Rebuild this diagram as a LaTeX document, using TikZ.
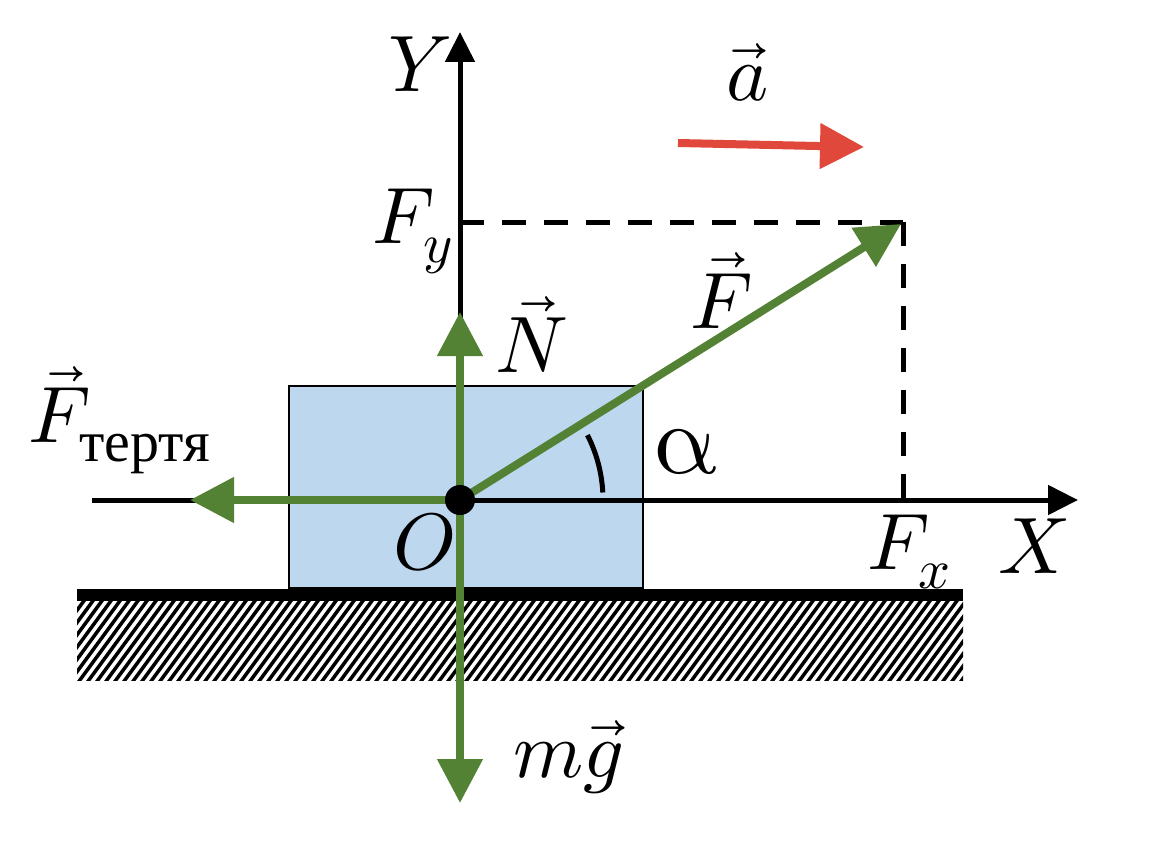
\documentclass[tikz,border=0pt]{standalone}
\usepackage{amsmath}
\usepackage{unicode-math}
\setmainfont{Liberation Serif}
\setmathfont{Latin Modern Math}
\usetikzlibrary{arrows.meta}
\definecolor{grn}{HTML}{548235}
\definecolor{redc}{HTML}{E0483B}
\definecolor{blockfill}{HTML}{BDD7EE}
\begin{document}
\begin{tikzpicture}[x=1pt,y=-1pt,
  lbl/.style={inner sep=0pt, font=\fontsize{80}{90}\selectfont},
  axisarrow/.style={line width=5pt, -{Triangle[length=30pt,width=29pt]}},
  force/.style={grn, line width=8pt, -{Triangle[length=44pt,width=44pt]}},
  dashln/.style={line width=5pt, dash pattern=on 24pt off 18pt}]
\useasboundingbox (0,0) rectangle (1154,851);
% key points
\coordinate (O) at (460,500);
\coordinate (Xs) at (92,500);
\coordinate (Xe) at (1078,500);
\coordinate (Ye) at (460,32);
\coordinate (Ntip) at (460,312);
\coordinate (Gtip) at (460,803);
\coordinate (Fr) at (190,500);
\coordinate (Fp) at (901,224);
\coordinate (C) at (903,222);
\coordinate (Cy) at (460,222);
\coordinate (Cx) at (903,500);
\coordinate (As) at (678,143);
\coordinate (Ae) at (864,147);
\coordinate (GL) at (77,595);
\coordinate (GR) at (963,595);
% block
\node[draw, fill=blockfill, line width=2pt, minimum width=354pt, minimum height=202pt,
      anchor=north west, inner sep=0pt, outer sep=0pt] (block) at (289,386) {};
% ground
\begin{scope}
\clip (77,601) rectangle (963,680);
\foreach \i in {0,...,108} \draw[line width=3.5pt] ({14+\i*9},684) -- ++(63,-86);
\end{scope}
\draw[line width=12pt] (GL) -- (GR);
% axes
\draw[axisarrow] (Xs) -- (Xe);
\draw[axisarrow] (O) -- (Ye);
% projections
\draw[dashln] (Cy) -- (C);
\draw[dashln] (C) -- (Cx);
% angle
\draw[line width=5pt] (O) ++(-3:143) arc[start angle=-3, end angle=-27, radius=143];
% forces
\draw[force] (O) -- (Ntip);
\draw[force] (O) -- (Gtip);
\draw[force] (O) -- (Fr);
\draw[force] (O) -- (Fp);
\draw[redc, line width=8pt, -{Triangle[length=44pt,width=44pt]}] (As) -- (Ae);
\fill (O) circle[radius=15];
% labels
\node[lbl, anchor=base] (lY) at (420,92) {$Y$};
\node[lbl, anchor=base] (la) at (748,100) {$\vec{a}$};
\node[lbl, anchor=base west] (lFy) at (372,243) {$F_y$};
\node[lbl, anchor=base west] (lF) at (690,328) {$\vec{F}$};
\node[lbl, anchor=base west] (lN) at (495,372) {$\vec{N}$};
\node[lbl, anchor=base west] (lFt) at (28,442) {$\vec{F}_{\text{\fontsize{58}{60}\selectfont тертя}}$};
\node[lbl, anchor=base west, font=\fontsize{100}{110}\selectfont] (lal) at (652,473) {$\symup{\alpha}$};
\node[lbl, anchor=base west] (lO) at (393,569) {$O$};
\node[lbl, anchor=base west] (lFx) at (867,569) {$F_x$};
\node[lbl, anchor=base west] (lX) at (998,573) {$X$};
\node[lbl, anchor=base west] (lmg) at (513,777) {$m\vec{g}$};
\end{tikzpicture}
\end{document}
